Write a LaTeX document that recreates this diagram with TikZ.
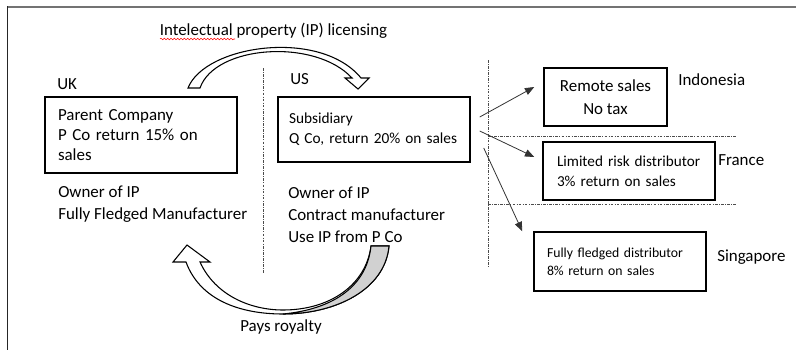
\documentclass[tikz,border=0pt]{standalone}
\usepackage{fontspec}
\setmainfont{Carlito}
\usetikzlibrary{arrows.meta, positioning, calc, decorations.pathmorphing}

\begin{document}
\begin{tikzpicture}[x=0.75pt, y=-0.75pt,
box/.style={draw, 
rectangle, 
line width=1.1pt, 
align=left}, 
arrow/.style={-{Triangle[length=7pt, width=5.5pt]}, line width=0.6pt, black!80}, 
divider/.style={line width=0.5pt, black!70, dash pattern=on 2pt off 1pt on 0.6pt off 1pt}, 
bigtext/.style={inner sep=0pt, font=\fontsize{12.7}{16.5}\selectfont, align=left}, 
bendarrow/.style={draw, line width=0.8pt, fill=white}
]

\useasboundingbox (0,0) rectangle (796,350);
\draw[line width=1.5pt, black!55] (7,6.5) -- (796,6.5);
\draw[line width=1.2pt, black!85] (7.5,6) -- (7.5,350);

\node[box, font=\fontsize{12.7}{15}\selectfont, minimum width=144pt, minimum height=57pt, text width=124.5pt, inner xsep=9.75pt] (ukbox) at (141,135) {Parent Company\\P Co return 15\% on\\sales}; 
\node[box, font=\fontsize{11.5}{15}\selectfont, minimum width=144pt, minimum height=48.75pt, text width=127.5pt, inner xsep=8.25pt] (usbox) at (374,129.5) {Subsidiary\\Q Co, return 20\% on sales}; 
\node[box, align=center, font=\fontsize{12.7}{17.25}\selectfont, minimum width=92.25pt, minimum height=43.5pt] (idbox) at (605.5,97) {Remote sales\\No tax}; 
\node[box, font=\fontsize{11.4}{15}\selectfont, minimum width=129pt, minimum height=43.5pt, text width=108pt, inner xsep=10.5pt] (frbox) at (629,171) {Limited risk distributor\\3\% return on sales}; 
\node[box, font=\fontsize{10.3}{13.5}\selectfont, minimum width=129pt, minimum height=44.25pt, text width=109.5pt, inner xsep=9.75pt] (sgbox) at (620,261.5) {Fully fledged distributor\\8\% return on sales};

\node[bigtext, anchor=west] (uklabel) at (57,84) {UK}; 
\node[bigtext, anchor=west] (uslabel) at (290,79) {US}; 
\node[bigtext, anchor=west] (idlabel) at (678,80) {Indonesia}; 
\node[bigtext, anchor=west] (frlabel) at (718,160) {France}; 
\node[bigtext, anchor=west] (sglabel) at (717,257) {Singapore}; 
\node[bigtext, anchor=west] (ukrole) at (58,204) {Owner of IP\\Fully Fledged Manufacturer}; 
\node[bigtext, anchor=west] (usrole) at (288,215) {Owner of IP\\Contract manufacturer\\Use IP from P Co}; 
\node[bigtext] (licensing) at (273.5,31) {Intelectual property (IP) licensing}; 
\node[bigtext] (royalty) at (281,327) {Pays royalty};

\draw[red, line width=0.4pt, decorate, decoration={snake, amplitude=0.6pt, segment length=2.5pt}] (160,39) -- (235,39);

\draw[divider] (263,68) -- (263,273); 
\draw[divider] (488,60) -- (488,267); 
\draw[divider] (488,136) -- (737,136); 
\draw[divider] (488,204) -- (737,204);

\draw[bendarrow] (188,88) .. controls (205,45) and (320,28) .. (361,78) -- (369,78) -- (358,89) -- (345,78) -- (352,78) .. controls (315,38) and (215,45) .. (200,88) -- cycle; 
\draw[bendarrow] (187,245) -- (210,262) -- (200,262) .. controls (215,295) and (250,310) .. (283,310) .. controls (330,310) and (366,285) .. (371,246) -- (389,246) .. controls (385,290) and (335,314) .. (283,314) .. controls (240,314) and (200,300) .. (186,262) -- (173,262) -- cycle; 
\draw[bendarrow, fill=black!18] (371,246) -- (389,246) .. controls (385,290) and (335,314) .. (283,314) .. controls (335,309) and (367,285) .. (371,246) -- cycle;

\draw[arrow] ($(usbox.east)+(9,-12.5)$) -- ($(idbox.west)+(-9,-10)$); 
\draw[arrow] ($(usbox.east)+(9,1.5)$) -- ($(frbox.west)+(-8,-14)$); 
\draw[arrow] ($(usbox.east)+(13,18.5)$) -- ($(sgbox.north west)+(-11,0)$);

\end{tikzpicture}
\end{document}
